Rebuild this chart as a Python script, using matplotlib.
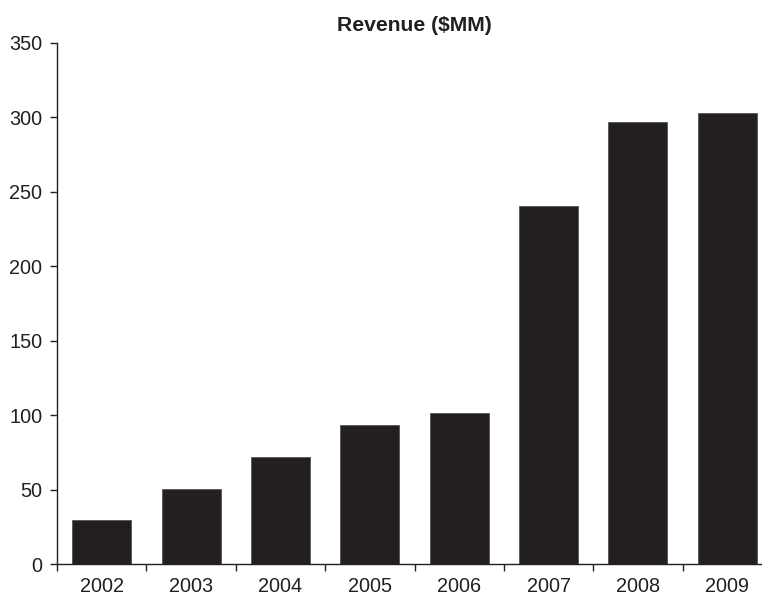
import numpy as np
import matplotlib.pyplot as plt
from matplotlib.ticker import FixedLocator

plt.rcParams['font.family'] = ['Liberation Sans', 'DejaVu Sans']

# --- Data
years = ['2002', '2003', '2004', '2005', '2006', '2007', '2008', '2009']
revenue = [29.3, 50.2, 71.6, 93.6, 101.4, 240.4, 296.6, 303.3]

ink = '#231f20'

fig = plt.figure(figsize=(7.62, 5.98), dpi=100)
ax = fig.add_axes([57 / 762, 34 / 598, 715 / 762, 521 / 598])

x = np.arange(len(years))
ax.bar(x, revenue, width=0.66, color=ink, edgecolor='#555555', linewidth=0.6)

ax.set_xlim(-0.5, len(years) - 0.5)
ax.set_ylim(0, 350)
ax.set_yticks(np.arange(0, 351, 50))

# year labels centred under bars, ticks between categories
ax.set_xticks(x)
ax.set_xticklabels(years)
ax.tick_params(axis='x', which='major', length=0, pad=9.5)
ax.xaxis.set_minor_locator(FixedLocator(np.arange(-0.5, len(years), 1.0)))
ax.tick_params(axis='x', which='minor', length=5, width=1, color=ink, direction='out')
ax.tick_params(axis='y', length=5, width=1, color=ink, direction='out', pad=5.5)
ax.tick_params(labelsize=14.3, labelcolor=ink)

for side in ['top', 'right']:
    ax.spines[side].set_visible(False)
for side in ['left', 'bottom']:
    ax.spines[side].set_color(ink)
    ax.spines[side].set_linewidth(1)

ax.set_title('Revenue ($MM)', fontsize=15.2, fontweight='bold', color=ink, pad=8.5)

fig.savefig('out.png', dpi=100)
